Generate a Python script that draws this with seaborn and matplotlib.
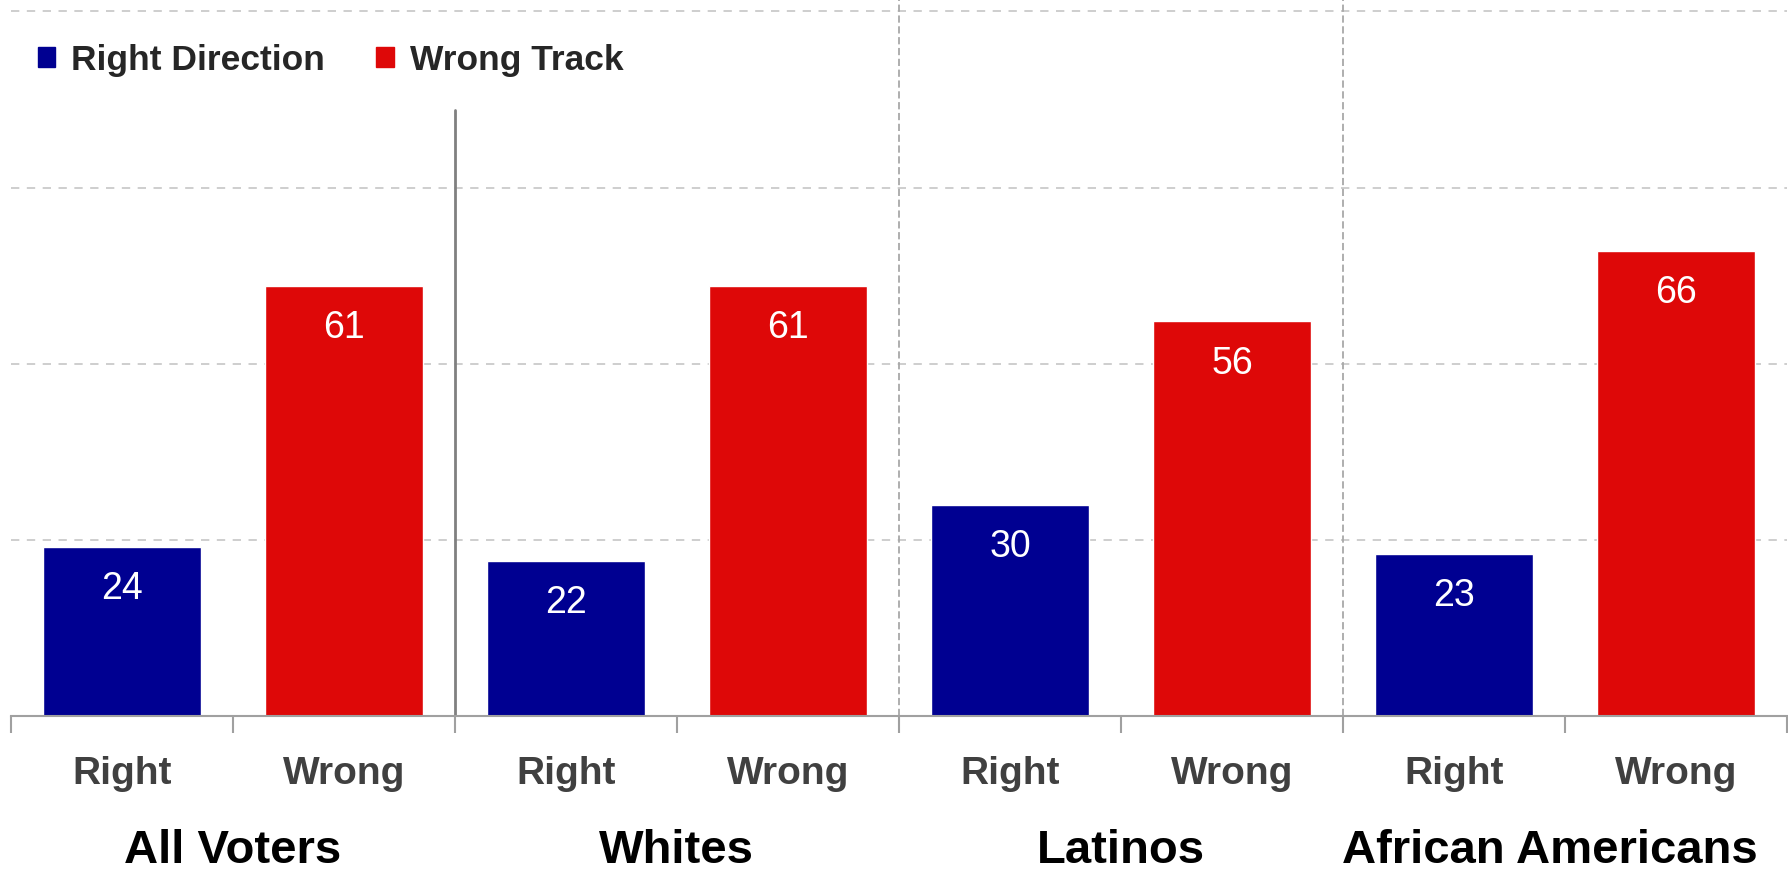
import pandas as pd
import seaborn as sns
import matplotlib.pyplot as plt
import matplotlib.patches as mpatches

# data
groups = ["All Voters", "Whites", "Latinos", "African Americans"]
answers = ["Right", "Wrong"]
right_direction = [24, 22, 30, 23]
wrong_track = [61, 61, 56, 66]
legend_labels = ["Right Direction", "Wrong Track"]

BLUE = "#000091"
RED = "#DE0808"

rows = []
for g, r, w in zip(groups, right_direction, wrong_track):
    rows.append({"slot": g + " Right", "answer": "Right", "pct": r})
    rows.append({"slot": g + " Wrong", "answer": "Wrong", "pct": w})
df = pd.DataFrame(rows)

sns.set_style("white")
plt.rcParams["font.family"] = ["Liberation Sans", "DejaVu Sans"]

fig = plt.figure(figsize=(17.88, 8.76), dpi=100)
ax = fig.add_axes([0.006, 0.1826, 0.9935, 0.8044])

sns.barplot(data=df, x="slot", y="pct", hue="answer",
            palette={"Right": BLUE, "Wrong": RED}, dodge=False,
            width=0.71, saturation=1, legend=False, ax=ax)

ax.set_xlim(-0.5, len(df) - 0.5)
ax.set_ylim(0, 100)

# dashed horizontal grid
for yv in [25, 50, 75, 100]:
    ax.axhline(yv, color="#c6c6c6", lw=1.2, ls=(0, (5, 4.5)), zorder=0, clip_on=False)

# group separators
ax.plot([1.5, 1.5], [0, 86], color="#808080", lw=2.0, zorder=1)
for xv in [3.5, 5.5]:
    ax.plot([xv, xv], [0, 101.6], color="#a8a8a8", lw=1.3, ls=(0, (4, 2)),
            zorder=1, clip_on=False)

# value labels inside bars
for cont in ax.containers:
    for p in cont:
        h = p.get_height()
        ax.text(p.get_x() + p.get_width() / 2, h - 6.0, f"{h:.0f}",
                ha="center", va="center", color="white", fontsize=27)

# axis styling
for s in ["left", "right", "top"]:
    ax.spines[s].set_visible(False)
ax.spines["bottom"].set_color("#a0a0a0")
ax.spines["bottom"].set_linewidth(1.5)
ax.set_yticks([])
ax.set_ylabel("")
ax.set_xlabel("")
ax.set_xticks(range(len(df)))
ax.set_xticklabels(answers * len(groups), fontsize=28, fontweight="bold",
                   color="#404040")
ax.set_xticks([i - 0.5 for i in range(len(df) + 1)], minor=True)
ax.tick_params(axis="x", which="major", length=0, pad=29)
ax.tick_params(axis="x", which="minor", length=12, width=1.5, color="#a0a0a0",
               direction="out", bottom=True)

# group names under the tick labels
for i, g in enumerate(groups):
    xc = 2 * i + 0.5 - (0.07 if i == len(groups) - 1 else 0)
    ax.text(xc, -0.208, g, transform=ax.get_xaxis_transform(),
            ha="center", va="baseline", fontsize=34, fontweight="bold",
            color="black")

handles = [mpatches.Patch(color=BLUE, label=legend_labels[0]),
           mpatches.Patch(color=RED, label=legend_labels[1])]
fig.legend(handles=handles, loc="center left", bbox_to_anchor=(0.021, 0.931),
           ncol=2, frameon=False, handlelength=0.5, handleheight=0.5,
           handletextpad=0.45, columnspacing=1.45, borderpad=0, borderaxespad=0,
           prop={"size": 25.5, "weight": "bold"})

plt.savefig("out.png", dpi=100)
plt.close()
